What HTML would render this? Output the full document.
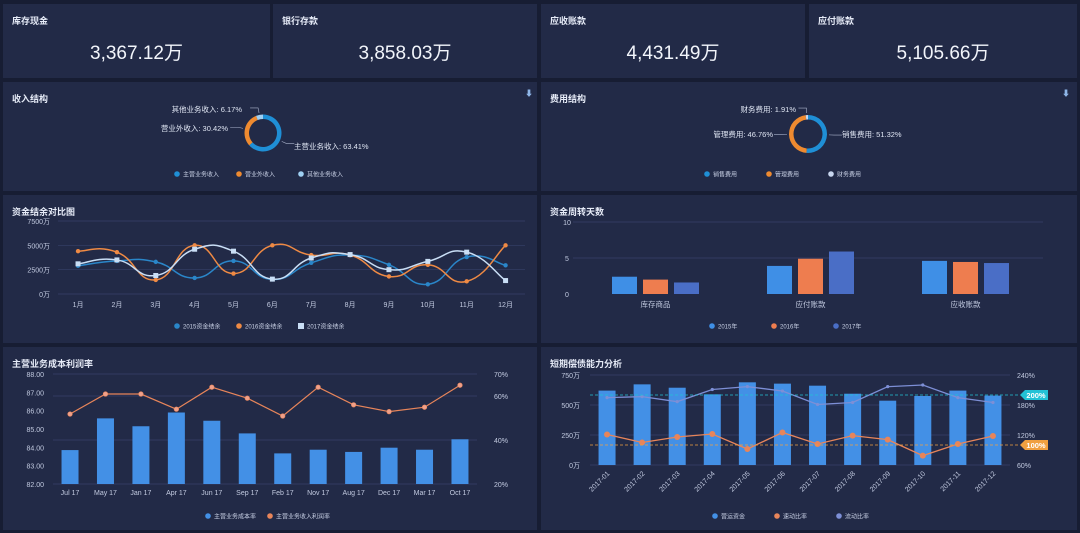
<!DOCTYPE html>
<html><head><meta charset="utf-8">
<style>
html,body{margin:0;padding:0;width:1080px;height:533px;background:#171d33;overflow:hidden;font-family:"Liberation Sans","Noto Sans CJK SC",sans-serif;color:#dfe5f3}
.p{position:absolute;background:#222a47}
.t{position:absolute;left:9px;top:10px;font-size:9px;font-weight:bold;color:#e6ebf7}
.v{position:absolute;left:0;right:0;top:34px;text-align:center;font-size:19px;color:#f2f5fb}
svg{position:absolute;left:0;top:0}
</style></head><body>
<div class="p" style="left:3px;top:4px;width:267px;height:74px"><div class="t">库存现金</div><div class="v">3,367.12万</div></div>
<div class="p" style="left:273px;top:4px;width:264px;height:74px"><div class="t">银行存款</div><div class="v">3,858.03万</div></div>
<div class="p" style="left:541px;top:4px;width:264px;height:74px"><div class="t">应收账款</div><div class="v">4,431.49万</div></div>
<div class="p" style="left:809px;top:4px;width:268px;height:74px"><div class="t">应付账款</div><div class="v">5,105.66万</div></div>
<div class="p" style="left:3px;top:82px;width:534px;height:109px"><div class="t">收入结构</div></div>
<div class="p" style="left:541px;top:82px;width:536px;height:109px"><div class="t">费用结构</div></div>
<div class="p" style="left:3px;top:195px;width:534px;height:148px"><div class="t">资金结余对比图</div></div>
<div class="p" style="left:541px;top:195px;width:536px;height:148px"><div class="t">资金周转天数</div></div>
<div class="p" style="left:3px;top:347px;width:534px;height:183px"><div class="t">主营业务成本利润率</div></div>
<div class="p" style="left:541px;top:347px;width:536px;height:183px"><div class="t">短期偿债能力分析</div></div>
<svg id="s" width="1080" height="533" font-family="Liberation Sans, Noto Sans CJK SC, sans-serif"></svg>
<script>
const incomeLabels=['主营业务收入','营业外收入','其他业务收入'];
const incomeVals=[63.41,30.42,6.17];
const expenseLabels=['销售费用','管理费用','财务费用'];
const expenseVals=[51.32,46.76,1.91];
const months=['1月','2月','3月','4月','5月','6月','7月','8月','9月','10月','11月','12月'];
const bal2015=[2900,3400,3300,1650,3400,1500,3200,4000,3000,1000,3800,2950];
const bal2016=[4400,4300,1450,5000,2100,5000,4000,4000,1800,3000,1300,5000];
const bal2017=[3100,3500,1900,4600,4400,1530,3700,4050,2500,3350,4300,1380];
const balTicks=[0,2500,5000,7500];
const turnCats=['库存商品','应付账款','应收账款'];
const turn2015=[2.4,3.9,4.6];
const turn2016=[2.0,4.9,4.45];
const turn2017=[1.6,5.9,4.3];
const turnTicks=[0,5,10];
const marginCats=['Jul 17','May 17','Jan 17','Apr 17','Jun 17','Sep 17','Feb 17','Nov 17','Aug 17','Dec 17','Mar 17','Oct 17'];
const costRate=[83.85,85.58,85.15,85.9,85.45,84.76,83.67,83.87,83.75,83.98,83.87,84.44];
const profitRate=[51.8,60.9,60.9,54,64,59,50.9,64,56,52.9,54.9,64.9];
const marginLeftTicks=[82,83,84,85,86,87,88];
const marginRightTicks=[20,40,60,70];
const solvCats=['2017-01','2017-02','2017-03','2017-04','2017-05','2017-06','2017-07','2017-08','2017-09','2017-10','2017-11','2017-12'];
const workCap=[620,672,644,589,689,678,661,594,536,575,620,578];
const currentRatio=[194.7,196.7,186.7,211,216.7,208,181,185,216.7,220,194.7,185];
const quickRatio=[121,105,116,122,92,125,102,118.7,110.7,78.7,102,118];
const solvLeftTicks=[0,250,500,750];
const solvRightTicks=[60,120,180,240];
const markLines=[200,100];

const S=document.getElementById('s');const NS='http://www.w3.org/2000/svg';
function E(tag,at,name,txt){const e=document.createElementNS(NS,tag);for(const k in at)e.setAttribute(k,at[k]);


if(txt!==undefined)e.textContent=txt;S.appendChild(e);return e;}
function lin(d0,d1,r0,r1){return v=>r0+(v-d0)/(d1-d0)*(r1-r0);}
function band(n,x0,x1){const w=(x1-x0)/n;return i=>x0+w*(i+0.5);}
function smooth(pts){let d='M'+pts[0][0]+','+pts[0][1];for(let i=0;i<pts.length-1;i++){const p0=pts[i-1]||pts[i],p1=pts[i],p2=pts[i+1],p3=pts[i+2]||p2;const t=0.25;
d+=' C'+(p1[0]+(p2[0]-p0[0])*t)+','+(p1[1]+(p2[1]-p0[1])*t)+' '+(p2[0]-(p3[0]-p1[0])*t)+','+(p2[1]-(p3[1]-p1[1])*t)+' '+p2[0]+','+p2[1];}return d;}
function legend(items,cx,y){const w=62;let x=cx-items.length*w/2;items.forEach((it,i)=>{const lx=x+i*w;
if(it[2]==='sq')E('rect',{x:lx-3,y:y-3,width:6,height:6,fill:it[1]},'legend-marker-'+i);else E('circle',{cx:lx,cy:y,r:2.8,fill:it[1]},'legend-marker-'+i);
E('text',{x:lx+6,y:y+2.5,'font-size':6,fill:'#c9d1e6'},'legend-entry',it[0]);});}
function donut(cx,cy,r0,r1,vals,cols,labels,pos){let a=-Math.PI/2;const tot=vals.reduce((a,b)=>a+b,0);
vals.forEach((v,i)=>{const a2=a+v/tot*2*Math.PI;const la=(a2-a)>Math.PI?1:0;
const p=(r,t)=>[cx+r*Math.cos(t),cy+r*Math.sin(t)];const A=p(r1,a),B=p(r1,a2),C=p(r0,a2),D=p(r0,a);
E('path',{d:`M${A} A${r1},${r1} 0 ${la} 1 ${B} L${C} A${r0},${r0} 0 ${la} 0 ${D}Z`,fill:cols[i]},'donut-slice-'+i);
const m=(a+a2)/2;const q=p(r1+2,m),q2=p(r1+7,m);const right=Math.cos(m)>=0;const ex=q2[0]+(right?8:-8);
E('polyline',{points:`${q} ${q2} ${ex},${q2[1]}`,fill:'none',stroke:'#aab3cc','stroke-width':0.6},'label-line-'+i);
const [lx,ly]=pos[i];E('text',{x:lx,y:ly,'font-size':7.5,fill:'#dfe5f3','text-anchor':right?'start':'end'},'donut-label',labels[i]+': '+v.toFixed(2)+'%');a=a2;});}
// donuts
donut(263,133,14,18.5,incomeVals,['#1f8fd6','#ee8a30','#9fd0f3'],incomeLabels,[[294,149],[228,131],[242,112]]);
legend([['主营业务收入','#1f8fd6'],['营业外收入','#ee8a30'],['其他业务收入','#9fd0f3']],270,174);
donut(808,134,14.5,19,expenseVals,['#1f8fd6','#ee8a30','#c8d6ef'],expenseLabels,[[842,137],[773,137],[796,112]]);
legend([['销售费用','#1f8fd6'],['管理费用','#ee8a30'],['财务费用','#c8d6ef']],800,174);
E('text',{x:529,y:96,'font-size':8,fill:'#8fb6e8','text-anchor':'middle'},'download-icon','⬇');
E('text',{x:1066,y:96,'font-size':8,fill:'#8fb6e8','text-anchor':'middle'},'download-icon','⬇');
// balance chart
{const y=lin(0,7500,294,221),x=band(12,58.6,525);
balTicks.forEach(t=>{E('line',{x1:58,x2:525,y1:y(t),y2:y(t),stroke:'#37406a','stroke-width':0.7},'gridline');E('text',{x:50,y:y(t)+3,'font-size':7,fill:'#c2cae0','text-anchor':'end'},'y-tick-label',t+'万');});
months.forEach((m,i)=>E('text',{x:x(i),y:307,'font-size':7,fill:'#c2cae0','text-anchor':'middle'},'x-tick-label',m));
[[bal2015,'#2a86c9','c'],[bal2016,'#ef8a44','c'],[bal2017,'#c9def5','sq']].forEach((s,k)=>{const pts=s[0].map((v,i)=>[x(i),y(v)]);
E('path',{d:smooth(pts),fill:'none',stroke:s[1],'stroke-width':1.5},'series-line-'+k);
pts.forEach(p=>{if(s[2]==='sq')E('rect',{x:p[0]-2.5,y:p[1]-2.5,width:5,height:5,fill:s[1]},'point');else E('circle',{cx:p[0],cy:p[1],r:2.2,fill:s[1]},'point');});});
legend([['2015资金结余','#2a86c9'],['2016资金结余','#ef8a44'],['2017资金结余','#c9def5','sq']],270,326);}
// turnover
{const y=lin(0,10,294,222),x=band(3,578,1043);
turnTicks.forEach(t=>{if(t>0)E('line',{x1:573,x2:1043,y1:y(t),y2:y(t),stroke:'#37406a','stroke-width':0.7},'gridline');E('text',{x:567,y:y(t)+3,'font-size':7,fill:'#c2cae0','text-anchor':'middle'},'y-tick-label',t);});
const cols=['#3f8fe6','#ee7d4f','#4a6ec6'];
[turn2015,turn2016,turn2017].forEach((s,k)=>s.forEach((v,i)=>E('rect',{x:x(i)+(k-1)*31-12.5,y:y(v),width:25,height:y(0)-y(v),fill:cols[k]},'bar')));
turnCats.forEach((c,i)=>E('text',{x:x(i),y:307,'font-size':7.5,fill:'#c2cae0','text-anchor':'middle'},'x-tick-label',c));
legend([['2015年',cols[0]],['2016年',cols[1]],['2017年',cols[2]]],805,326);}
// margin
{const yl=lin(82,88,484,374),yr=lin(20,70,484,374),x=band(12,52.3,477.7);
marginRightTicks.forEach(t=>{E('line',{x1:53,x2:477,y1:yr(t),y2:yr(t),stroke:'#37406a','stroke-width':0.7},'gridline');E('text',{x:494,y:yr(t)+3,'font-size':7,fill:'#c2cae0'},'right-tick-label',t+'%');});
marginLeftTicks.forEach(t=>E('text',{x:44,y:yl(t)+3,'font-size':7,fill:'#c2cae0','text-anchor':'end'},'left-tick-label',t.toFixed(2)));
costRate.forEach((v,i)=>E('rect',{x:x(i)-8.5,y:yl(v),width:17,height:yl(82)-yl(v),fill:'#4390e6'},'bar'));
E('polyline',{points:profitRate.map((v,i)=>x(i)+','+yr(v)).join(' '),fill:'none',stroke:'#e8855a','stroke-width':1.2},'profit-line');
profitRate.forEach((v,i)=>E('circle',{cx:x(i),cy:yr(v),r:2.3,fill:'#f0a08a',stroke:'#e8855a','stroke-width':0.6},'point'));
marginCats.forEach((c,i)=>E('text',{x:x(i),y:495,'font-size':7,fill:'#c2cae0','text-anchor':'middle'},'x-tick-label',c));
legend([['主营业务成本率','#4390e6'],['主营业务收入利润率','#e8855a']],270,516);}
// solvency
{const yl=lin(0,750,465,375),yr=lin(60,240,465,375),x=band(12,589.5,1010.5);
solvLeftTicks.forEach(t=>{E('line',{x1:590,x2:1010,y1:yl(t),y2:yl(t),stroke:'#37406a','stroke-width':0.7},'gridline');E('text',{x:580,y:yl(t)+3,'font-size':7,fill:'#c2cae0','text-anchor':'end'},'left-tick-label',t+'万');});
solvRightTicks.forEach(t=>E('text',{x:1017,y:yr(t)+3,'font-size':7,fill:'#c2cae0'},'right-tick-label',t+'%'));
workCap.forEach((v,i)=>E('rect',{x:x(i)-8.5,y:yl(v),width:17,height:yl(0)-yl(v),fill:'#4390e6'},'bar'));
[[currentRatio,'#7d8fd6',1.6],[quickRatio,'#e8855a',3]].forEach((s,k)=>{E('polyline',{points:s[0].map((v,i)=>x(i)+','+yr(v)).join(' '),fill:'none',stroke:s[1],'stroke-width':1.3},'ratio-line-'+k);
s[0].forEach((v,i)=>E('circle',{cx:x(i),cy:yr(v),r:s[2],fill:s[1]},'point'));});
const mc=['#22c2d6','#f0a040'];
markLines.forEach((m,k)=>{const yy=yr(m);E('line',{x1:590,x2:1020,y1:yy,y2:yy,stroke:mc[k],'stroke-width':0.8,'stroke-dasharray':'3,2'},'mark-line');
E('path',{d:`M1020,${yy} L1025,${yy-5} L1048,${yy-5} L1048,${yy+5} L1025,${yy+5}Z`,fill:mc[k]},'mark-tag');
E('text',{x:1036,y:yy+3,'font-size':7.5,'font-weight':'bold',fill:'#fff','text-anchor':'middle'},'mark-label',m+'%');});
solvCats.forEach((c,i)=>E('text',{x:x(i)+3,y:474,'font-size':7,fill:'#c2cae0','text-anchor':'end',transform:`rotate(-45 ${x(i)+3} 474)`},'x-tick-label',c));
legend([['营运资金','#4390e6'],['速动比率','#e8855a'],['流动比率','#7d8fd6']],808,516);}
</script>
</body></html>
